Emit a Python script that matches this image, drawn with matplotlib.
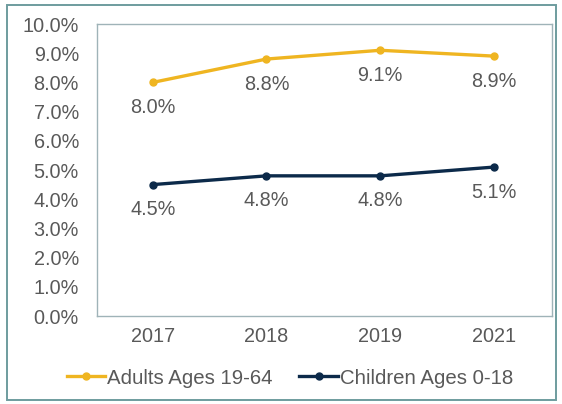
import matplotlib.pyplot as plt
from matplotlib.patches import Rectangle
from matplotlib.ticker import FuncFormatter

plt.rcParams['font.family'] = ['Liberation Sans', 'DejaVu Sans']

years = ['2017', '2018', '2019', '2021']
adults = [8.0, 8.8, 9.1, 8.9]
children = [4.5, 4.8, 4.8, 5.1]
series_names = ['Adults Ages 19-64', 'Children Ages 0-18']

gold = '#EFB521'
navy = '#0C2A4A'
text_gray = '#595959'
frame_gray = '#9FB3B8'
fs = 14.3

fig = plt.figure(figsize=(5.62, 4.04), dpi=100)
fig.patch.set_facecolor('white')
ax = fig.add_axes([97 / 562, 1 - 316 / 404, (552 - 97) / 562, (316 - 24) / 404])

x = list(range(len(years)))
l1, = ax.plot(x, adults, color=gold, lw=2.4, marker='o', ms=5, label=series_names[0])
l2, = ax.plot(x, children, color=navy, lw=2.4, marker='o', ms=5, label=series_names[1])

for vals in (adults, children):
    for xi, v in zip(x, vals):
        ax.annotate(f'{v:.1f}%', (xi, v), xytext=(0, -18), textcoords='offset points',
                    ha='center', va='center', fontsize=fs, color=text_gray)

ax.set_xlim(-0.49, 3.51)
ax.set_ylim(0, 10)
ax.set_yticks(list(range(0, 11)))
ax.yaxis.set_major_formatter(FuncFormatter(lambda v, p: f'{v:.1f}%'))
ax.set_xticks(x, years)
ax.tick_params(axis='both', length=0, labelsize=fs, colors=text_gray)
ax.tick_params(axis='y', pad=13)
ax.tick_params(axis='x', pad=8)
for s in ax.spines.values():
    s.set_color(frame_gray)
    s.set_linewidth(1.0)

fig.legend(handles=[l1, l2], loc='center', bbox_to_anchor=(290 / 562, 1 - 378 / 404),
           ncol=2, frameon=False, fontsize=fs + 0.4, handlelength=1.9, handletextpad=0.1,
           columnspacing=1.3, labelcolor=text_gray)

fig.patches.append(Rectangle((7 / 562, 1 - 400 / 404), (556 - 7) / 562, (400 - 5) / 404,
                             transform=fig.transFigure, fill=False,
                             edgecolor='#6E9C9E', linewidth=1.4))

fig.savefig('out.png', dpi=100)
